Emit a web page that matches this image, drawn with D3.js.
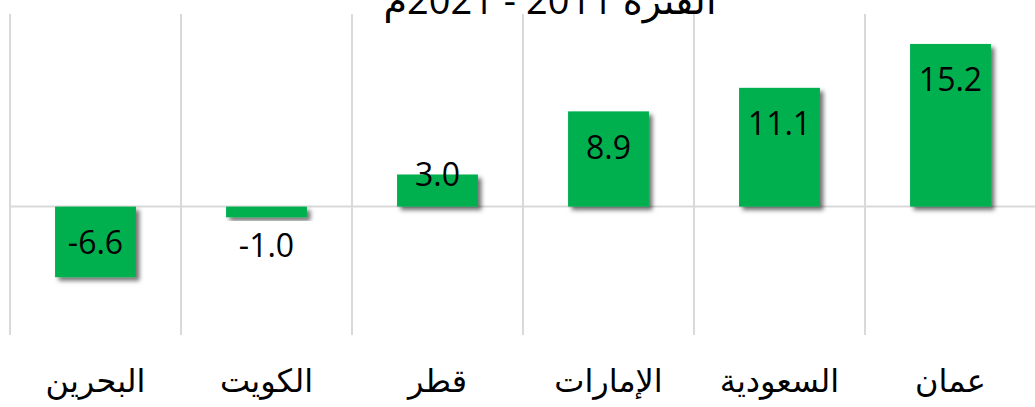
<!DOCTYPE html>
<html lang="ar">
<head>
<meta charset="utf-8">
<script src="https://cdn.jsdelivr.net/npm/d3@7"></script>
<style>
  html, body { margin: 0; padding: 0; background: #ffffff; overflow: hidden; }
  svg { display: block; }
</style>
</head>
<body>
<svg id="chart" width="1035" height="407"></svg>
<script>
// Data (left-to-right display order)
const categories = ["البحرين", "الكويت", "قطر", "الإمارات", "السعودية", "عمان"];
const values = [-6.6, -1.0, 3.0, 8.9, 11.1, 15.2];
const valueLabels = ["-6.6", "-1.0", "3.0", "8.9", "11.1", "15.2"];
const titleText = "الفترة 2011 - 2021م";
const yDomain = [-12, 18];

const W = 1035, H = 407;
const plot = { left: 10, right: 1036, top: 14, bottom: 335 };
const svg = d3.select("#chart");

const defs = svg.append("defs");
const f = defs.append("filter").attr("id", "shadow")
  .attr("x", "-20%").attr("y", "-20%").attr("width", "150%").attr("height", "150%");
f.append("feDropShadow").attr("dx", 3.5).attr("dy", 3.5).attr("stdDeviation", 2.2)
  .attr("flood-color", "#000").attr("flood-opacity", 0.55);

const pi = 0.527;
const x = d3.scaleBand().domain(categories)
  .range([plot.left, plot.right]).paddingInner(pi).paddingOuter(pi / 2);
const y = d3.scaleLinear().domain(yDomain).range([plot.bottom, plot.top]);
const step = x.step();

// vertical category gridlines
const bounds = categories.map(c => x(c) - step * pi / 2);
svg.append("g").selectAll("line").data(bounds).join("line")
  .attr("x1", d => d).attr("x2", d => d)
  .attr("y1", plot.top).attr("y2", plot.bottom)
  .attr("stroke", "#d9d9d9").attr("stroke-width", 2);

// zero axis line
svg.append("line")
  .attr("x1", plot.left).attr("x2", W)
  .attr("y1", y(0)).attr("y2", y(0))
  .attr("stroke", "#d9d9d9").attr("stroke-width", 2);

// bars
const data = categories.map((c, i) => ({ c, v: values[i], label: valueLabels[i] }));
svg.append("g").selectAll("rect").data(data).join("rect")
  .attr("x", d => x(d.c))
  .attr("width", x.bandwidth())
  .attr("y", d => y(Math.max(0, d.v)))
  .attr("height", d => Math.abs(y(d.v) - y(0)))
  .attr("fill", "#00b050")
  .attr("filter", "url(#shadow)");

// value labels
svg.append("g").selectAll("text").data(data).join("text")
  .attr("x", d => x(d.c) + x.bandwidth() / 2)
  .attr("y", d => {
    const h = Math.abs(y(d.v) - y(0));
    let center;
    if (d.v >= 0) center = h > 60 ? y(d.v) + 36 : y(d.v);
    else center = h > 60 ? y(d.v) - 35 : y(d.v) + 28;
    return center + 11.5;
  })
  .attr("text-anchor", "middle")
  .attr("font-family", "'Open Sans', sans-serif")
  .attr("font-size", 32)
  .attr("fill", "#000")
  .text(d => d.label);

// category labels
svg.append("g").selectAll("text").data(categories).join("text")
  .attr("x", d => x(d) + x.bandwidth() / 2)
  .attr("y", 392)
  .attr("text-anchor", "middle")
  .attr("direction", "rtl")
  .attr("font-family", "'DejaVu Sans', sans-serif")
  .attr("font-size", 32)
  .attr("fill", "#000")
  .text(d => d);

// title (clipped at top, as in the reference)
svg.append("text")
  .attr("x", 550).attr("y", 14)
  .attr("text-anchor", "middle")
  .attr("direction", "rtl")
  .attr("font-family", "'Open Sans', 'DejaVu Sans', sans-serif")
  .attr("font-size", 38)
  .attr("fill", "#000")
  .text(titleText);
</script>
</body>
</html>
